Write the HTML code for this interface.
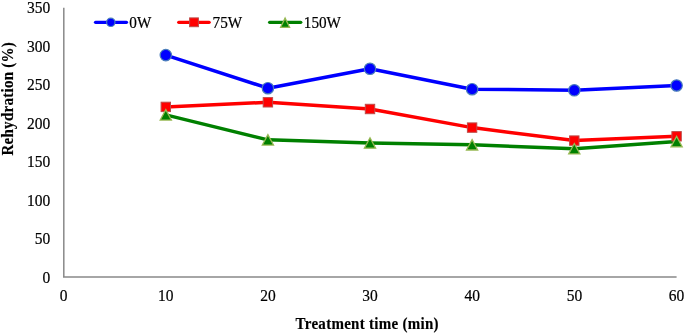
<!DOCTYPE html>
<html><head><meta charset="utf-8"><style>
html,body{margin:0;padding:0;background:#fff;}
body{width:685px;height:333px;overflow:hidden;}
svg{display:block;will-change:transform;}
.t{font-family:"Liberation Serif",serif;font-size:15.5px;fill:#000;stroke:#000;stroke-width:0.2px;}
.l{font-family:"Liberation Serif",serif;font-size:15.2px;fill:#000;stroke:#000;stroke-width:0.2px;}
.b{font-family:"Liberation Serif",serif;font-size:15px;font-weight:bold;letter-spacing:0.28px;fill:#000;stroke:#000;stroke-width:0.15px;}
</style></head><body>
<svg width="685" height="333" viewBox="0 0 685 333">
<line x1="63.8" y1="7.8" x2="63.8" y2="277.1" stroke="#898989" stroke-width="1.5"/>
<line x1="63.0" y1="277.1" x2="676.6" y2="277.1" stroke="#898989" stroke-width="1.5"/>
<text transform="translate(50.20,282.50) scale(1,1.06)" text-anchor="end" class="t">0</text>
<text transform="translate(50.20,244.03) scale(1,1.06)" text-anchor="end" class="t">50</text>
<text transform="translate(50.20,205.56) scale(1,1.06)" text-anchor="end" class="t">100</text>
<text transform="translate(50.20,167.09) scale(1,1.06)" text-anchor="end" class="t">150</text>
<text transform="translate(50.20,128.61) scale(1,1.06)" text-anchor="end" class="t">200</text>
<text transform="translate(50.20,90.14) scale(1,1.06)" text-anchor="end" class="t">250</text>
<text transform="translate(50.20,51.67) scale(1,1.06)" text-anchor="end" class="t">300</text>
<text transform="translate(50.20,13.20) scale(1,1.06)" text-anchor="end" class="t">350</text>
<text transform="translate(63.64,301.00) scale(1,1.06)" text-anchor="middle" class="t">0</text>
<text transform="translate(165.80,301.00) scale(1,1.06)" text-anchor="middle" class="t">10</text>
<text transform="translate(267.96,301.00) scale(1,1.06)" text-anchor="middle" class="t">20</text>
<text transform="translate(370.12,301.00) scale(1,1.06)" text-anchor="middle" class="t">30</text>
<text transform="translate(472.28,301.00) scale(1,1.06)" text-anchor="middle" class="t">40</text>
<text transform="translate(574.44,301.00) scale(1,1.06)" text-anchor="middle" class="t">50</text>
<text transform="translate(676.60,301.00) scale(1,1.06)" text-anchor="middle" class="t">60</text>
<polyline points="165.8,55.10 267.9,88.20 370.0,68.80 472.1,89.20 574.3,90.30 676.6,85.50" fill="none" stroke="#0000FF" stroke-width="3.5" stroke-linejoin="round" stroke-linecap="round"/>
<polyline points="165.8,106.90 267.9,102.30 370.0,109.00 472.1,127.60 574.3,140.60 676.6,136.30" fill="none" stroke="#FF0000" stroke-width="3.5" stroke-linejoin="round" stroke-linecap="round"/>
<polyline points="165.8,114.85 267.9,139.85 370.0,143.00 472.1,144.80 574.3,148.75 676.6,141.60" fill="none" stroke="#008000" stroke-width="3.5" stroke-linejoin="round" stroke-linecap="round"/>
<circle cx="165.80" cy="55.10" r="5.7" fill="#0000FF" stroke="#4A7EBB" stroke-width="1.2"/>
<circle cx="267.90" cy="88.20" r="5.7" fill="#0000FF" stroke="#4A7EBB" stroke-width="1.2"/>
<circle cx="370.00" cy="68.80" r="5.7" fill="#0000FF" stroke="#4A7EBB" stroke-width="1.2"/>
<circle cx="472.10" cy="89.20" r="5.7" fill="#0000FF" stroke="#4A7EBB" stroke-width="1.2"/>
<circle cx="574.30" cy="90.30" r="5.7" fill="#0000FF" stroke="#4A7EBB" stroke-width="1.2"/>
<circle cx="676.60" cy="85.50" r="5.7" fill="#0000FF" stroke="#4A7EBB" stroke-width="1.2"/>
<rect x="161.10" y="102.20" width="9.4" height="9.4" fill="#FF0000" stroke="#BE4B48" stroke-width="1"/>
<rect x="263.20" y="97.60" width="9.4" height="9.4" fill="#FF0000" stroke="#BE4B48" stroke-width="1"/>
<rect x="365.30" y="104.30" width="9.4" height="9.4" fill="#FF0000" stroke="#BE4B48" stroke-width="1"/>
<rect x="467.40" y="122.90" width="9.4" height="9.4" fill="#FF0000" stroke="#BE4B48" stroke-width="1"/>
<rect x="569.60" y="135.90" width="9.4" height="9.4" fill="#FF0000" stroke="#BE4B48" stroke-width="1"/>
<rect x="671.90" y="131.60" width="9.4" height="9.4" fill="#FF0000" stroke="#BE4B48" stroke-width="1"/>
<polygon points="165.80,109.65 171.40,120.05 160.20,120.05" fill="#008000" stroke="#98B954" stroke-width="1.3" stroke-linejoin="miter"/>
<polygon points="267.90,134.65 273.50,145.05 262.30,145.05" fill="#008000" stroke="#98B954" stroke-width="1.3" stroke-linejoin="miter"/>
<polygon points="370.00,137.80 375.60,148.20 364.40,148.20" fill="#008000" stroke="#98B954" stroke-width="1.3" stroke-linejoin="miter"/>
<polygon points="472.10,139.60 477.70,150.00 466.50,150.00" fill="#008000" stroke="#98B954" stroke-width="1.3" stroke-linejoin="miter"/>
<polygon points="574.30,143.55 579.90,153.95 568.70,153.95" fill="#008000" stroke="#98B954" stroke-width="1.3" stroke-linejoin="miter"/>
<polygon points="676.60,136.40 682.20,146.80 671.00,146.80" fill="#008000" stroke="#98B954" stroke-width="1.3" stroke-linejoin="miter"/>
<line x1="95.5" y1="22.3" x2="126.5" y2="22.3" stroke="#0000FF" stroke-width="3.2" stroke-linecap="round"/>
<circle cx="110.80" cy="22.30" r="4.2" fill="#0000FF" stroke="#4A7EBB" stroke-width="1.2"/>
<text transform="translate(129.30,27.50) scale(1,1.06)" text-anchor="start" class="l">0W</text>
<line x1="178.7" y1="22.3" x2="209.2" y2="22.3" stroke="#FF0000" stroke-width="3.2" stroke-linecap="round"/>
<rect x="189.60" y="17.90" width="8.8" height="8.8" fill="#FF0000" stroke="#BE4B48" stroke-width="1"/>
<text transform="translate(212.60,27.50) scale(1,1.06)" text-anchor="start" class="l">75W</text>
<line x1="269.6" y1="22.3" x2="300.8" y2="22.3" stroke="#008000" stroke-width="3.2" stroke-linecap="round"/>
<polygon points="285.10,18.10 289.60,27.30 280.60,27.30" fill="#008000" stroke="#98B954" stroke-width="1.3" stroke-linejoin="miter"/>
<text transform="translate(303.80,27.50) scale(1,1.06)" text-anchor="start" class="l">150W</text>
<text transform="translate(367.2,329) scale(1,1.06)" text-anchor="middle" class="b">Treatment time (min)</text>
<text transform="translate(13.3,98.7) rotate(-90) scale(1,1.06)" text-anchor="middle" class="b">Rehydration (%)</text>
</svg>
</body></html>
